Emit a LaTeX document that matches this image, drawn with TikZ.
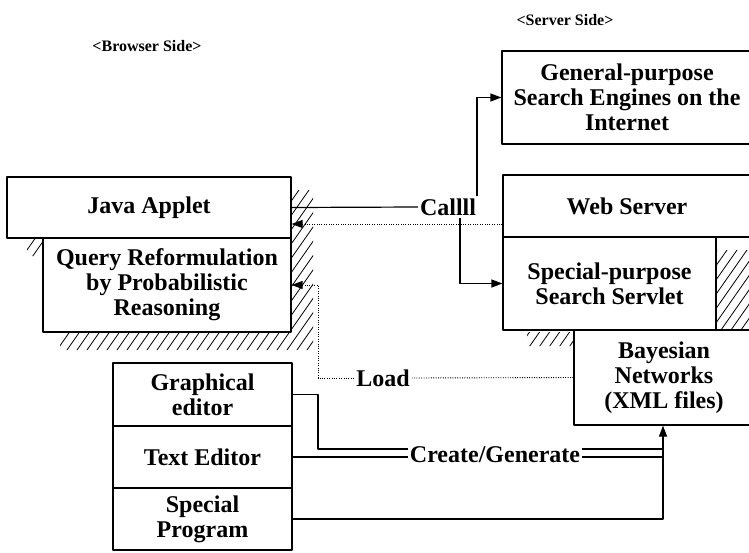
\documentclass[tikz,border=0pt]{standalone}
\usepackage{fontspec}
\setmainfont{Liberation Serif}
\usetikzlibrary{arrows.meta,positioning}

\begin{document}
\begin{tikzpicture}[x=1pt,y=-1pt,>={Triangle[length=11pt,width=8pt]},line join=round,
	font=\bfseries\fontsize{24}{25}\selectfont,
	box/.style={draw,line width=1.2pt,rectangle,align=center,inner sep=0pt},
	conn/.style={line width=1.2pt},
	dots/.style={line width=0.9pt,dash pattern=on 1pt off 1.4pt},
	lbl/.style={fill=white,inner sep=2pt},
	hatch/.style={line width=0.8pt},
	side/.style={font=\bfseries\fontsize{16}{18}\selectfont}]
	\useasboundingbox (0,0) rectangle (749,552);
	% hatched shadows
	\begin{scope}
		\clip (291,190) rectangle (313,350) (60,332) rectangle (313,350) (27,238) rectangle (43,256);
		\foreach \i in {0,10,...,470} \draw[hatch] (\i-140,360) -- (\i,160);
	\end{scope}
	\begin{scope}
		\clip (716,250) rectangle (749,330) (527,332) rectangle (574,346);
		\foreach \i in {500,510,...,900} \draw[hatch] (\i-140,360) -- (\i,160);
	\end{scope}
	% headers
	\node[side] (bside) at (147,46) {<Browser Side>};
	\node[side] (sside) at (565,20) {<Server Side>};
	% browser side
	\node[box,minimum width=284pt,minimum height=61pt] (java) at (149,207.5) {Java Applet};
	\node[box,minimum width=248pt,minimum height=94pt] (query) at (167,285) {Query Reformulation\\by Probabilistic\\Reasoning};
	\node[box,minimum width=179pt,minimum height=63pt] (graph) at (202.5,394.5) {Graphical\\editor};
	\node[box,minimum width=179pt,minimum height=62pt] (text) at (202.5,457) {Text Editor};
	\node[box,minimum width=179pt,minimum height=62pt] (special) at (202.5,519) {Special\\Program};
	% server side
	\node[box,minimum width=250pt,minimum height=93pt] (gen) at (627,97.5) {General-purpose\\Search Engines on the\\Internet};
	\node[box,minimum width=248pt,minimum height=62pt] (web) at (627,206) {Web Server};
	\node[box,minimum width=213pt,minimum height=93pt] (servlet) at (609.5,283.5) {Special-purpose\\Search Servlet};
	\node[box,minimum width=180pt,minimum height=95pt] (bayes) at (664,377.5) {Bayesian\\Networks\\(XML files)};
	% labels
	\node[lbl] (call) at (448,207) {Callll};
	\node[lbl] (load) at (383,378) {Load};
	\node[lbl] (create) at (495,455) {Create/Generate};
	\coordinate (dw) at ([yshift=-18pt]web.west);
	\coordinate (lq) at (318,285);
	\coordinate (gk) at (318,449);
	\coordinate (jn) at (663,449);
	% call
	\draw[conn] (java.east) -- (call.west);
	\draw[conn,->] ([xshift=29pt]call.north) |- (gen.west);
	\draw[conn,->] ([xshift=12pt]call.south) |- (servlet.west);
	\draw[dots,->] (dw) -- (dw -| java.east);
	% load
	\draw[dots] (bayes.west) -- (load.east);
	\draw[dots,->] (load.west) -| (lq) -- (query.east);
	% create/generate
	\draw[conn] (graph.east) -| (gk) -- (gk -| create.west);
	\draw[conn] (create.east |- jn) -- (jn);
	\draw[conn] (text.east) -- (text.east -| create.west);
	\draw[conn] (create.east |- text.east) -- (text.east -| jn);
	\draw[conn,->] (special.east) -| (bayes.south -| jn);
\end{tikzpicture}
\end{document}
